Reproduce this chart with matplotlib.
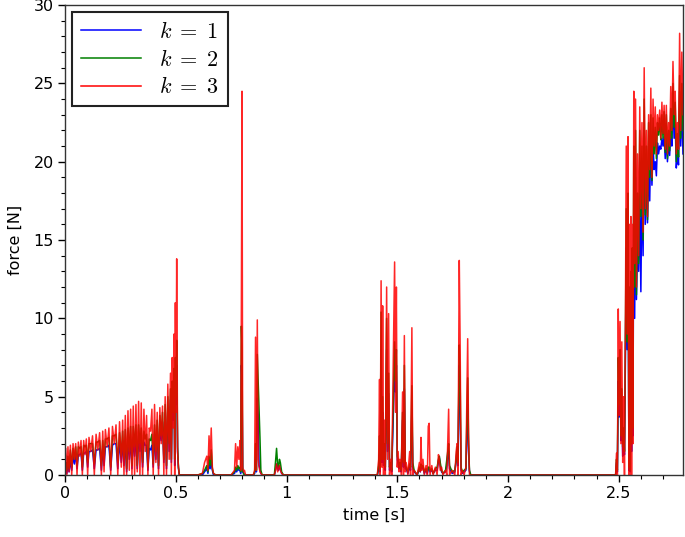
import numpy as np
import matplotlib
matplotlib.use("Agg")
import matplotlib.pyplot as plt
from matplotlib.ticker import MultipleLocator

# --- data (time in s, force in N) ---
# segment A: 0 .. 0.52 s
seg_a_t = [0.000, 0.003, 0.008, 0.013, 0.018, 0.024, 0.030, 0.036, 0.042, 0.048,
           0.054, 0.060, 0.066, 0.072, 0.078, 0.084, 0.090, 0.096, 0.102, 0.108,
           0.116, 0.124, 0.132, 0.140, 0.148, 0.156, 0.164, 0.170, 0.176, 0.182,
           0.190, 0.198, 0.206, 0.214, 0.222, 0.230, 0.238, 0.246, 0.254, 0.260,
           0.266, 0.272, 0.278, 0.284, 0.290, 0.296, 0.302, 0.308, 0.314, 0.320,
           0.326, 0.332, 0.338, 0.344, 0.350, 0.356, 0.362, 0.368, 0.374, 0.380,
           0.386, 0.392, 0.398, 0.404, 0.410, 0.416, 0.422, 0.428, 0.434, 0.440,
           0.446, 0.452, 0.458, 0.464, 0.470, 0.476, 0.480, 0.484, 0.488, 0.492,
           0.495, 0.498, 0.501, 0.504, 0.508, 0.512, 0.516]
seg_a_k1 = [0.0, 0.3, 0.1, 0.6, 0.2, 0.9, 0.3, 1.2, 0.7, 1.3,
            0.4, 1.3, 1.3, 1.4, 0.3, 1.4, 1.4, 1.5, 0.5, 1.5,
            1.5, 1.6, 0.4, 1.6, 1.6, 1.7, 0.3, 1.7, 0.6, 1.8,
            1.8, 1.9, 0.3, 1.9, 2.0, 2.0, 0.4, 2.1, 0.8, 2.2,
            0.6, 2.2, 0.2, 2.3, 1.0, 2.3, 0.4, 2.4, 1.2, 2.4,
            0.4, 2.5, 1.5, 2.3, 0.5, 2.1, 1.9, 1.9, 0.3, 1.7,
            1.6, 1.9, 0.5, 2.6, 1.0, 2.8, 0.4, 3.1, 2.2, 3.4,
            0.8, 3.9, 0.4, 4.3, 1.5, 4.8, 0.8, 5.2, 3.5, 5.6,
            0.6, 6.2, 4.5, 7.0, 1.5, 0.4, 0.0]
seg_a_k2 = [0.0, 0.8, 0.3, 1.2, 0.4, 1.6, 0.5, 1.7, 1.0, 1.8,
            0.6, 1.8, 1.7, 1.8, 0.5, 1.9, 1.8, 1.9, 0.8, 2.0,
            2.0, 2.0, 0.7, 2.1, 2.1, 2.2, 0.6, 2.2, 1.0, 2.3,
            2.3, 2.4, 0.5, 2.5, 2.5, 2.6, 0.8, 2.7, 1.2, 2.8,
            1.0, 2.9, 0.4, 3.0, 1.5, 3.1, 0.6, 3.1, 1.8, 3.2,
            0.6, 3.2, 2.0, 3.0, 0.8, 2.8, 2.3, 2.6, 0.5, 2.3,
            2.2, 2.6, 0.7, 3.2, 1.5, 3.5, 0.6, 3.8, 2.5, 4.0,
            1.0, 4.5, 0.6, 5.0, 2.0, 5.5, 1.0, 6.0, 4.0, 6.8,
            1.0, 7.5, 5.0, 8.6, 1.8, 0.5, 0.0]
seg_a_k3 = [0.0, 1.7, 0.0, 1.8, 0.2, 1.9, 0.0, 2.0, 1.0, 2.0,
            0.0, 2.1, 1.2, 2.2, 0.0, 2.2, 1.3, 2.3, 0.0, 2.4,
            1.5, 2.5, 0.0, 2.6, 1.6, 2.7, 0.0, 2.8, 0.2, 2.9,
            1.8, 3.0, 0.0, 3.1, 2.0, 3.2, 0.0, 3.4, 0.5, 3.5,
            0.0, 3.8, 0.0, 4.1, 0.3, 4.2, 0.0, 4.4, 0.0, 4.5,
            0.2, 4.7, 0.0, 4.6, 0.0, 4.2, 1.5, 3.8, 0.0, 3.0,
            2.8, 4.2, 0.0, 4.5, 0.8, 4.0, 0.0, 4.3, 2.0, 4.4,
            0.0, 5.0, 0.0, 5.8, 1.0, 6.5, 0.0, 7.5, 3.0, 9.0,
            0.0, 11.0, 4.0, 13.8, 1.5, 0.5, 0.0]

# segment B: 0.6 .. 1.0 s
seg_b_t = [0.600, 0.620, 0.630, 0.640, 0.645, 0.650, 0.655, 0.660, 0.665, 0.670, 0.680,
           0.750, 0.765, 0.770, 0.775, 0.780, 0.785, 0.790, 0.793, 0.796, 0.799,
           0.802, 0.806, 0.810, 0.815,
           0.850, 0.856, 0.860, 0.864, 0.868, 0.872, 0.876, 0.880, 0.884, 0.890,
           0.945, 0.950, 0.955, 0.960, 0.964, 0.968, 0.972, 0.978, 0.986]
seg_b_k1 = [0.0, 0.0, 0.2, 0.4, 0.1, 0.7, 0.4, 0.9, 0.3, 0.0, 0.0,
            0.0, 0.1, 0.3, 0.2, 0.4, 0.3, 0.3, 0.1, 7.0, 6.0,
            0.2, 0.1, 0.0, 0.0,
            0.0, 0.1, 1.0, 0.2, 4.9, 3.8, 0.6, 0.4, 0.1, 0.0,
            0.0, 0.3, 0.7, 0.4, 0.3, 0.6, 0.4, 0.1, 0.0]
seg_b_k2 = [0.0, 0.1, 0.3, 0.6, 0.2, 1.2, 0.6, 1.6, 0.4, 0.1, 0.0,
            0.0, 0.2, 0.5, 0.3, 0.6, 0.4, 0.5, 0.2, 9.5, 8.0,
            0.3, 0.1, 0.0, 0.0,
            0.0, 0.2, 2.0, 0.3, 7.7, 6.0, 4.3, 2.4, 0.3, 0.0,
            0.0, 0.8, 1.7, 0.6, 0.5, 1.0, 0.8, 0.2, 0.0]
seg_b_k3 = [0.0, 0.1, 0.8, 1.2, 0.3, 2.5, 1.0, 3.0, 0.5, 0.1, 0.0,
            0.0, 0.3, 2.0, 0.5, 1.8, 1.0, 2.2, 0.3, 10.5, 24.5,
            0.5, 0.2, 0.3, 0.0,
            0.0, 0.3, 8.8, 0.3, 9.9, 1.0, 0.5, 0.2, 0.1, 0.0,
            0.0, 0.3, 0.7, 0.2, 0.4, 0.6, 0.3, 0.1, 0.0]

# segment C: 1.4 .. 1.85 s
seg_c_t = [1.410, 1.416, 1.420, 1.423, 1.427, 1.431, 1.434, 1.438, 1.442, 1.446,
           1.452, 1.456, 1.461, 1.465, 1.470, 1.475, 1.488, 1.492, 1.496, 1.500,
           1.504, 1.508, 1.512, 1.518, 1.524, 1.528, 1.532, 1.536, 1.540, 1.548,
           1.556, 1.560, 1.566, 1.570, 1.576, 1.590, 1.600, 1.604, 1.607, 1.611,
           1.616, 1.622, 1.630, 1.636, 1.640, 1.644, 1.648, 1.656, 1.662, 1.672,
           1.680, 1.686, 1.690, 1.694, 1.700, 1.706, 1.718, 1.724, 1.728, 1.732,
           1.736, 1.748, 1.760, 1.766, 1.770, 1.774, 1.780, 1.784, 1.788, 1.794,
           1.802, 1.810, 1.818, 1.822, 1.826, 1.832]
seg_c_k1 = [0.0, 0.4, 1.3, 0.2, 8.0, 0.8, 4.0, 0.6, 1.2, 0.3,
            8.0, 1.5, 5.2, 0.3, 0.5, 0.2, 6.8, 5.3, 7.0, 1.0,
            0.7, 0.4, 0.6, 0.2, 3.5, 0.5, 5.5, 0.4, 0.4, 0.1,
            0.5, 0.3, 4.2, 0.5, 0.2, 0.0, 0.4, 0.2, 0.5, 0.4,
            0.5, 0.1, 0.3, 0.1, 0.4, 0.4, 0.2, 0.3, 0.1, 0.3,
            0.3, 0.9, 1.1, 0.6, 0.2, 0.1, 0.2, 0.6, 1.3, 1.5,
            0.4, 0.1, 0.2, 0.9, 1.6, 0.6, 7.0, 4.0, 0.3, 0.1,
            0.2, 0.3, 4.5, 1.5, 0.2, 0.0]
seg_c_k2 = [0.0, 0.6, 2.5, 0.4, 10.4, 1.0, 5.0, 1.0, 2.0, 0.5,
            10.0, 2.0, 6.5, 0.5, 0.8, 0.3, 8.5, 6.0, 8.0, 1.2,
            1.0, 0.5, 0.8, 0.3, 4.0, 0.8, 7.0, 0.6, 0.5, 0.2,
            0.7, 0.5, 5.7, 0.8, 0.3, 0.0, 0.5, 0.3, 0.7, 0.5,
            0.6, 0.2, 0.4, 0.2, 0.5, 0.5, 0.3, 0.4, 0.1, 0.4,
            0.5, 1.0, 1.2, 0.8, 0.3, 0.1, 0.3, 1.0, 1.5, 2.0,
            0.6, 0.2, 0.3, 1.0, 1.8, 0.8, 8.3, 6.0, 0.5, 0.2,
            0.3, 0.4, 6.2, 2.0, 0.3, 0.0]
seg_c_k3 = [0.0, 1.0, 6.1, 0.0, 12.4, 0.5, 10.8, 0.0, 3.5, 0.0,
            12.0, 1.0, 10.3, 0.0, 1.0, 0.0, 13.6, 4.0, 12.0, 0.5,
            1.5, 0.2, 1.0, 0.0, 5.3, 0.0, 8.9, 0.2, 0.8, 0.0,
            1.5, 0.0, 9.4, 0.0, 0.3, 0.0, 0.8, 0.2, 2.4, 0.3,
            1.0, 0.0, 0.6, 0.0, 3.1, 3.3, 0.0, 0.6, 0.0, 0.5,
            0.0, 1.3, 1.0, 0.3, 0.5, 0.0, 0.3, 0.0, 2.0, 4.2,
            0.0, 0.3, 0.0, 1.5, 2.0, 0.0, 13.7, 8.2, 0.0, 0.3,
            0.0, 0.5, 8.7, 2.3, 0.0, 0.0]

# segment D: 2.49 .. 2.79 s
seg_d_t = [2.486, 2.490, 2.494, 2.498, 2.502, 2.506, 2.510, 2.514, 2.518, 2.522,
           2.526, 2.530, 2.534, 2.538, 2.542, 2.546, 2.549, 2.552, 2.555, 2.558,
           2.561, 2.564, 2.568, 2.572, 2.576, 2.580, 2.585, 2.590, 2.595, 2.600,
           2.605, 2.610, 2.615, 2.620, 2.625, 2.630, 2.635, 2.640, 2.645, 2.650,
           2.655, 2.660, 2.665, 2.670, 2.675, 2.680, 2.685, 2.690, 2.695, 2.700,
           2.705, 2.710, 2.715, 2.720, 2.725, 2.730, 2.735, 2.740, 2.745, 2.750,
           2.755, 2.760, 2.765, 2.770, 2.775, 2.780, 2.785, 2.790]
seg_d_k1 = [0.0, 0.8, 0.2, 6.0, 3.7, 6.5, 2.2, 4.0, 1.2, 2.0,
            1.3, 7.0, 14.5, 8.0, 16.0, 0.3, 9.0, 0.2, 10.0, 1.5,
            12.0, 2.5, 17.0, 10.0, 19.0, 11.2, 15.0, 13.0, 17.5, 11.7,
            19.0, 14.0, 22.2, 16.0, 19.5, 16.1, 19.8, 17.5, 21.7, 18.5,
            21.0, 19.5, 20.0, 19.1, 21.2, 20.5, 21.0, 20.8, 21.5, 21.0,
            21.6, 20.2, 21.5, 20.0, 21.3, 20.4, 22.0, 21.0, 24.0, 21.5,
            22.5, 19.6, 20.5, 19.8, 24.5, 21.0, 24.0, 20.5]
seg_d_k2 = [0.0, 1.0, 0.3, 7.5, 4.5, 8.0, 2.5, 5.5, 1.8, 3.0,
            1.5, 8.0, 17.0, 8.5, 18.0, 0.5, 12.0, 0.3, 13.0, 2.0,
            14.5, 3.0, 21.0, 12.0, 22.0, 11.5, 18.0, 13.5, 22.0, 16.5,
            21.0, 15.0, 24.0, 16.6, 21.0, 16.3, 22.5, 19.0, 23.0, 18.8,
            22.8, 20.5, 22.2, 20.2, 22.5, 21.7, 22.8, 21.4, 23.0, 21.5,
            23.2, 20.6, 23.0, 20.2, 22.0, 20.7, 23.4, 21.5, 25.0, 22.2,
            23.8, 20.0, 21.8, 20.3, 25.5, 21.5, 25.0, 22.0]
seg_d_k3 = [0.0, 1.4, 0.0, 10.6, 3.8, 9.8, 2.0, 8.5, 0.8, 5.0,
            0.0, 9.3, 21.0, 9.0, 21.6, 0.0, 16.0, 0.0, 16.5, 0.0,
            16.0, 2.0, 24.5, 13.5, 24.0, 12.0, 20.5, 14.0, 23.5, 17.0,
            22.5, 15.5, 26.0, 17.0, 22.0, 16.5, 23.0, 19.5, 24.7, 19.0,
            24.0, 21.0, 23.5, 20.5, 23.0, 22.0, 23.3, 21.5, 23.8, 21.8,
            23.6, 20.8, 23.6, 20.5, 22.5, 21.0, 24.8, 22.0, 26.4, 23.0,
            24.5, 20.5, 22.5, 20.8, 28.2, 22.0, 27.0, 23.0]

labels = [r"$k\;=\;1$", r"$k\;=\;2$", r"$k\;=\;3$"]

# stitch the segments (force is zero in between)
t = np.array(seg_a_t + seg_b_t + seg_c_t + seg_d_t)
k1 = np.array(seg_a_k1 + seg_b_k1 + seg_c_k1 + seg_d_k1)
k2 = np.array(seg_a_k2 + seg_b_k2 + seg_c_k2 + seg_d_k2)
k3 = np.array(seg_a_k3 + seg_b_k3 + seg_c_k3 + seg_d_k3)

plt.rcParams["mathtext.fontset"] = "cm"
plt.rcParams["font.family"] = ["DejaVu Sans"]

fig = plt.figure(figsize=(6.85, 5.37), dpi=100)
ax = fig.add_axes([0.095, 0.1155, 0.902, 0.875])

l1, = ax.plot(t, k1, color="#0000ff", lw=1.1, label=labels[0])
l2, = ax.plot(t, k2, color="#008000", lw=1.1, label=labels[1])
l3, = ax.plot(t, k3, color="#ff0000", lw=1.1, alpha=0.85, label=labels[2])

ax.set_xlim(0, 2.79)
ax.set_ylim(0, 30)
ax.xaxis.set_minor_locator(MultipleLocator(0.1))
ax.yaxis.set_major_locator(MultipleLocator(5))
ax.yaxis.set_minor_locator(MultipleLocator(1))
ax.set_xticks([0, 0.5, 1, 1.5, 2, 2.5])
ax.set_xticklabels(["0", "0.5", "1", "1.5", "2", "2.5"])
ax.tick_params(which="major", direction="out", length=5, width=1, labelsize=11.5, pad=3)
ax.tick_params(which="minor", direction="out", length=3, width=0.8)
for s in ax.spines.values():
    s.set_color("#333333")
    s.set_linewidth(1.0)

ax.set_xlabel("time [s]", fontsize=11.5, labelpad=5)
ax.set_ylabel("force [N]", fontsize=11.5, labelpad=8)

leg = ax.legend(handles=[l1, l2, l3], loc="upper left", bbox_to_anchor=(0.012, 0.985),
                borderaxespad=0, fontsize=16, handlelength=2.7, fancybox=False,
                framealpha=1, edgecolor="#222222", labelspacing=0.3, borderpad=0.4)
leg.get_frame().set_linewidth(1.5)
for h in leg.get_lines():
    h.set_alpha(1.0)

fig.savefig("out.png", dpi=100)
